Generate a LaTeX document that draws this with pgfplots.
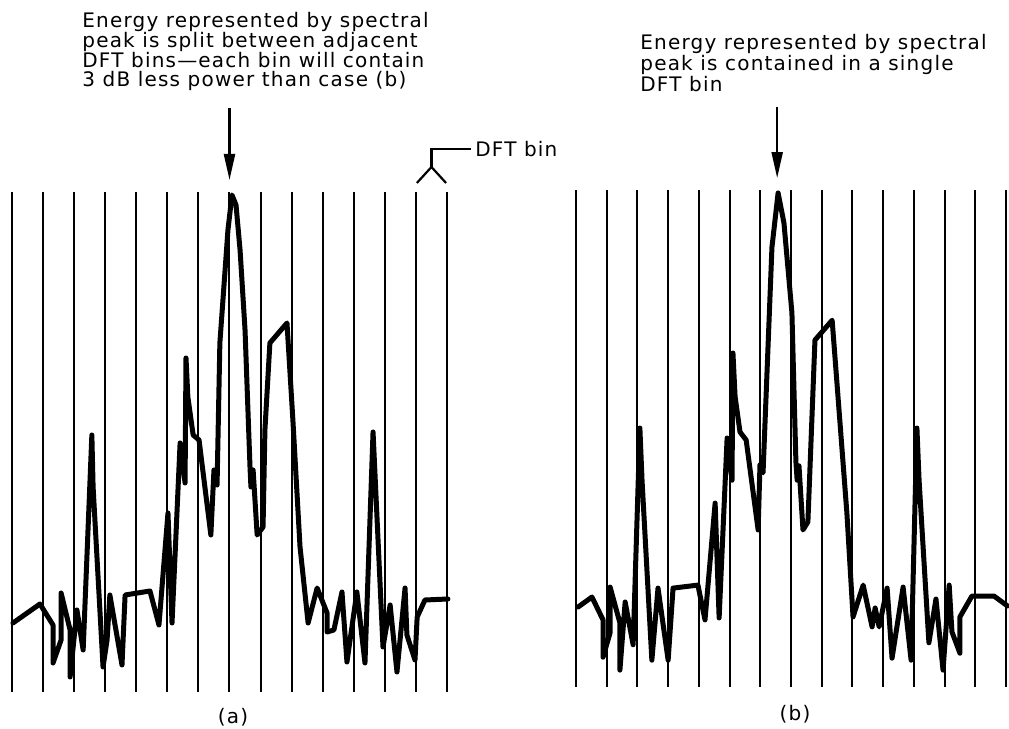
\documentclass[border=0pt]{standalone}
\usepackage{fontspec}
\setmainfont{DejaVu Sans}[LetterSpace=6]
\usepackage{pgfplots}
\usepackage{pgfplotstable}
\pgfplotsset{compat=1.18}
\usetikzlibrary{arrows.meta}

\pgfplotstableread{
x y
0.03 13.8
0.90 17.6
1.32 13.4
1.32 5.8
1.58 10.4
1.58 19.8
1.87 12.4
1.87 3.0
2.09 16.4
2.29 8.4
2.57 51.4
2.61 41.0
2.93 5.0
3.06 10.4
3.15 19.4
3.54 5.4
3.64 19.4
4.44 20.2
4.73 13.4
5.02 35.8
5.15 13.8
5.41 49.8
5.57 41.8
5.60 66.8
5.66 59.0
5.83 51.4
6.02 50.4
6.40 31.4
6.50 44.4
6.60 41.4
6.69 69.8
6.95 92.4
7.08 99.4
7.21 97.4
7.34 88.4
7.50 72.4
7.66 45.0
7.69 41.0
7.76 44.4
7.89 31.4
8.08 33.0
8.14 52.4
8.30 69.8
8.85 73.8
9.04 54.4
9.27 29.0
9.53 13.8
9.82 20.8
10.14 15.8
10.14 12.0
10.36 12.4
10.62 20.0
10.78 6.0
11.10 20.0
11.36 5.8
11.62 52.0
11.94 9.0
12.17 17.4
12.39 4.0
12.65 20.8
12.71 11.4
12.97 6.4
13.04 15.0
13.29 18.4
14.03 18.6
}\specA

\pgfplotstableread{
x y
0.07 16.1
0.52 18.1
0.88 13.5
0.88 6.0
1.11 10.9
1.11 20.1
1.43 12.9
1.43 3.4
1.60 17.1
1.86 8.5
2.08 52.1
2.15 41.6
2.47 5.4
2.67 19.9
3.00 5.4
3.16 19.9
3.97 20.5
4.20 13.5
4.53 37.0
4.66 13.9
4.92 50.1
5.08 41.6
5.11 67.2
5.18 58.4
5.34 51.3
5.54 49.7
5.93 31.6
5.99 44.7
6.09 43.1
6.38 88.5
6.58 99.4
6.77 93.4
7.03 75.3
7.16 45.3
7.20 41.6
7.26 44.5
7.39 31.6
7.55 33.2
7.78 69.8
8.34 73.8
8.82 35.0
9.02 14.1
9.35 20.5
9.64 12.1
9.74 15.9
9.87 12.1
10.13 19.9
10.29 5.8
10.65 20.1
10.91 5.4
11.10 52.1
11.17 41.6
11.49 8.9
11.72 17.7
11.95 3.4
12.15 20.5
12.24 11.1
12.50 6.8
12.50 14.1
12.89 18.3
13.61 18.3
14.05 16.3
}\specB

\pgfplotsset{
  binaxis/.style={
    scale only axis,
    xmin=0, xmax=14, ymin=0, ymax=100,
    axis line style={draw=none},
    xtick={0,1,...,14}, xticklabels={},
    ytick=\empty,
    major tick length=0pt,
    xmajorgrids,
    major grid style={black, line width=1pt},
    clip=false,
  },
  trace/.style={black, line width=2.5pt, line join=round, line cap=round},
}

\begin{document}
\begin{tikzpicture}[x=0.5pt, y=0.5pt, font=\fontsize{10}{12}\selectfont]
\path[use as bounding box] (0,0) rectangle (1009,729);

% Panel (a)
\begin{axis}[binaxis, at={(6pt,18.5pt)}, anchor=south west, width=217.5pt, height=250pt]
\addplot[trace] table[x=x, y=y] {\specA};
\draw[black, line width=1.1pt, -{Triangle[length=13pt, width=5.5pt]}] (axis cs:7,116.8) -- (axis cs:7,102.4);
\draw[black, line width=1.1pt] (axis cs:13.03,101.8) -- (axis cs:13.5,105) -- (axis cs:13.97,101.8);
\draw[black, line width=1.1pt] (axis cs:13.5,105) -- (axis cs:13.5,108.6) -- (axis cs:14.77,108.6);
\node[anchor=west, inner sep=0pt] at (axis cs:14.9,108.6) {DFT bin};
\end{axis}

% Panel (b)
\begin{axis}[binaxis, at={(288pt,21pt)}, anchor=south west, width=215pt, height=248.5pt]
\addplot[trace] table[x=x, y=y] {\specB};
\draw[black, line width=1.1pt, -{Triangle[length=13pt, width=5.5pt]}] (axis cs:6.55,116.7) -- (axis cs:6.55,102.4);
\end{axis}

% Annotations
\node[anchor=base west, inner sep=0pt] at (82,701) {Energy represented by spectral};
\node[anchor=base west, inner sep=0pt] at (82,681) {peak is split between adjacent};
\node[anchor=base west, inner sep=0pt] at (82,661) {DFT bins---each bin will contain};
\node[anchor=base west, inner sep=0pt] at (82,642) {3 dB less power than case (b)};

\node[anchor=base west, inner sep=0pt] at (640,679) {Energy represented by spectral};
\node[anchor=base west, inner sep=0pt] at (640,658) {peak is contained in a single};
\node[anchor=base west, inner sep=0pt] at (640,637.5) {DFT bin};

\node[inner sep=0pt] at (233,12) {(a)};
\node[inner sep=0pt] at (795,15) {(b)};
\end{tikzpicture}
\end{document}
